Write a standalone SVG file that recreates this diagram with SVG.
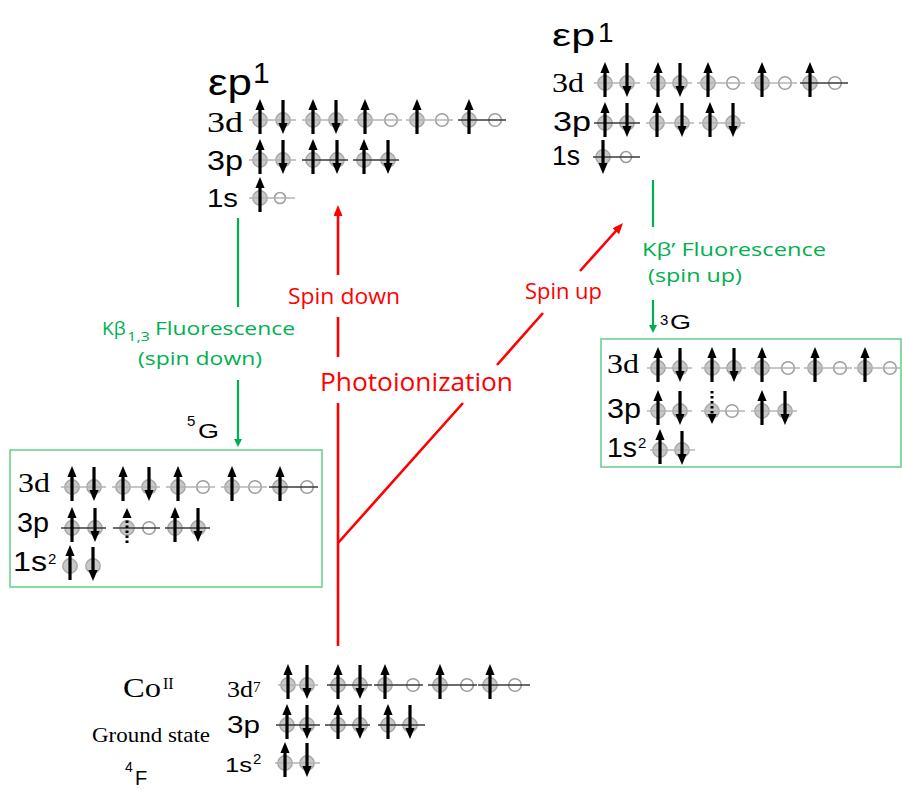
<svg xmlns="http://www.w3.org/2000/svg" xmlns:xlink="http://www.w3.org/1999/xlink" width="902" height="790" viewBox="0 0 902 790">
<style>
.cf{fill:#c8c8c8;stroke:#a6a6a6;stroke-width:1.4}
.co{fill:#fff;stroke:#9e9e9e;stroke-width:1.6}
.ll{stroke:#b3b3b3;stroke-width:1.3}
.ld{stroke:#3a3a3a;stroke-width:1.3}
.ar{stroke:#000;stroke-width:3.2}
.dt{stroke:#000;stroke-width:3;stroke-dasharray:2.5,2.5}
.lab{font-family:"Liberation Sans",Arial,sans-serif;fill:#000}
.ser{font-family:"Liberation Serif","Times New Roman",serif;fill:#000}
.red{font-family:"Open Sans","Noto Sans",sans-serif;fill:#ff0000}
.grn{font-family:"Open Sans","Noto Sans",sans-serif;fill:#00b050}
.rl{stroke:#ff0000;stroke-width:2.6;fill:none}
.gl{stroke:#00b050;stroke-width:2.2;fill:none}
.box{fill:none;stroke:#5fcf86;stroke-width:1.5}
</style>
<defs>
<circle id="f" r="7.2" class="cf"/>
<circle id="o" r="6.3" class="co"/>
<circle id="os" r="5.5" class="co"/>
<g id="u"><line x1="0" y1="14" x2="0" y2="-11" class="ar"/><path d="M-4.6,-10 L0,-21 L4.6,-10Z"/></g>
<g id="d"><line x1="0" y1="-20" x2="0" y2="4" class="ar"/><path d="M-4.6,3 L0,14 L4.6,3Z"/></g>
<g id="du"><line x1="0" y1="15" x2="0" y2="-10" class="dt"/><path d="M-4.6,-10 L0,-20 L4.6,-10Z"/></g>
<g id="dd"><line x1="0" y1="-20" x2="0" y2="4" class="dt"/><path d="M-4.6,3 L0,13 L4.6,3Z"/></g>
<marker id="mr" markerUnits="userSpaceOnUse" markerWidth="12" markerHeight="10" refX="3" refY="4.5" orient="auto"><path d="M0,0 L11,4.5 L0,9Z" fill="#ff0000"/></marker>
<marker id="mg" markerUnits="userSpaceOnUse" markerWidth="10" markerHeight="9" refX="1" refY="4" orient="auto"><path d="M0,0 L8,4 L0,8Z" fill="#00b050"/></marker>
</defs>
<rect width="902" height="790" fill="#fff"/>

<g id="connectors">
<line class="rl" x1="338" y1="646" x2="338" y2="403"/>
<line class="rl" x1="338" y1="357" x2="338" y2="317"/>
<line class="rl" x1="338" y1="275" x2="338" y2="213" marker-end="url(#mr)"/>
<line class="rl" x1="338" y1="543" x2="463" y2="403"/>
<line class="rl" x1="497" y1="365" x2="543" y2="313"/>
<line class="rl" x1="580" y1="271" x2="617.7" y2="229" marker-end="url(#mr)"/>
<line class="gl" x1="238" y1="218" x2="238" y2="307"/>
<line class="gl" x1="238" y1="380" x2="238" y2="440" marker-end="url(#mg)"/>
<line class="gl" x1="653" y1="180" x2="653" y2="227"/>
<line class="gl" x1="653" y1="300" x2="653" y2="326" marker-end="url(#mg)"/>
</g>

<g id="labels">
<text class="red" x="288" y="304" font-size="21" textLength="112" lengthAdjust="spacingAndGlyphs">Spin down</text>
<text class="red" x="525" y="299" font-size="21" textLength="77" lengthAdjust="spacingAndGlyphs">Spin up</text>
<text class="red" x="320" y="391" font-size="26" textLength="193" lengthAdjust="spacingAndGlyphs">Photoionization</text>
<text class="grn" x="102" y="335" font-size="19">Kβ</text>
<text class="grn" x="127" y="341" font-size="13" textLength="23" lengthAdjust="spacingAndGlyphs">1,3</text>
<text class="grn" x="155" y="335" font-size="19" textLength="140" lengthAdjust="spacingAndGlyphs">Fluorescence</text>
<text class="grn" x="138" y="365" font-size="19" textLength="124" lengthAdjust="spacingAndGlyphs">(spin down)</text>
<text class="grn" x="642" y="256" font-size="19" textLength="184" lengthAdjust="spacingAndGlyphs">Kβ’ Fluorescence</text>
<text class="grn" x="648" y="282" font-size="19" textLength="94" lengthAdjust="spacingAndGlyphs">(spin up)</text>
</g>

<g id="ep1-left">
<text class="lab" x="208" y="95" font-size="36" textLength="44" lengthAdjust="spacingAndGlyphs">εp</text>
<text class="lab" x="253" y="83" font-size="30">1</text>
<text class="ser" x="207" y="132" font-size="30" textLength="36" lengthAdjust="spacingAndGlyphs">3d</text>
<text class="lab" x="207" y="170" font-size="28" textLength="36" lengthAdjust="spacingAndGlyphs">3p</text>
<text class="lab" x="207" y="207" font-size="26" textLength="31" lengthAdjust="spacingAndGlyphs">1s</text>
<use href="#f" x="260" y="120"/><use href="#f" x="283" y="120"/><use href="#f" x="313" y="120"/><use href="#f" x="336" y="120"/><use href="#f" x="365" y="120"/><use href="#o" x="391" y="120"/><use href="#f" x="417" y="120"/><use href="#o" x="442" y="120"/><use href="#f" x="469" y="120"/><use href="#o" x="495" y="120"/>
<line class="ll" x1="249" y1="120" x2="296" y2="120"/><line class="ll" x1="302" y1="120" x2="348" y2="120"/><line class="ll" x1="354" y1="120" x2="402" y2="120"/><line class="ll" x1="406" y1="120" x2="453" y2="120"/><line class="ld" x1="458" y1="120" x2="506" y2="120"/>
<use href="#u" x="260" y="120"/><use href="#d" x="283" y="120"/><use href="#u" x="313" y="120"/><use href="#d" x="336" y="120"/><use href="#u" x="365" y="120"/><use href="#u" x="417" y="120"/><use href="#u" x="469" y="120"/>
<use href="#f" x="260" y="160"/><use href="#f" x="283" y="160"/><use href="#f" x="313" y="160"/><use href="#f" x="337" y="160"/><use href="#f" x="364" y="160"/><use href="#f" x="388" y="160"/>
<line class="ll" x1="249" y1="160" x2="296" y2="160"/><line class="ld" x1="302" y1="160" x2="348" y2="160"/><line class="ld" x1="353" y1="160" x2="399" y2="160"/>
<use href="#u" x="260" y="160"/><use href="#d" x="283" y="160"/><use href="#u" x="313" y="160"/><use href="#d" x="337" y="160"/><use href="#u" x="364" y="160"/><use href="#d" x="388" y="160"/>
<use href="#f" x="260" y="198"/><use href="#os" x="280" y="198"/>
<line class="ll" x1="249" y1="198" x2="295" y2="198"/>
<use href="#u" x="260" y="198"/>
</g>

<g id="ep1-right">
<text class="lab" x="552" y="46" font-size="31" textLength="43" lengthAdjust="spacingAndGlyphs">εp</text>
<text class="lab" x="598" y="42" font-size="28">1</text>
<text class="ser" x="552" y="92" font-size="27" textLength="32" lengthAdjust="spacingAndGlyphs">3d</text>
<text class="lab" x="553" y="131" font-size="27" textLength="38" lengthAdjust="spacingAndGlyphs">3p</text>
<text class="lab" x="552" y="165" font-size="27" textLength="28" lengthAdjust="spacingAndGlyphs">1s</text>
<use href="#f" x="605" y="83"/><use href="#f" x="627" y="83"/><use href="#f" x="658" y="83"/><use href="#f" x="680" y="83"/><use href="#f" x="708" y="83"/><use href="#o" x="733" y="83"/><use href="#f" x="762" y="83"/><use href="#o" x="785" y="83"/><use href="#f" x="810" y="83"/><use href="#o" x="835" y="83"/>
<line class="ll" x1="594" y1="83" x2="640" y2="83"/><line class="ll" x1="647" y1="83" x2="692" y2="83"/><line class="ll" x1="697" y1="83" x2="745" y2="83"/><line class="ll" x1="751" y1="83" x2="797" y2="83"/><line class="ld" x1="800" y1="83" x2="848" y2="83"/>
<use href="#u" x="605" y="83"/><use href="#d" x="627" y="83"/><use href="#u" x="658" y="83"/><use href="#d" x="680" y="83"/><use href="#u" x="708" y="83"/><use href="#u" x="762" y="83"/><use href="#u" x="810" y="83"/>
<use href="#f" x="605" y="123"/><use href="#f" x="627" y="123"/><use href="#f" x="657" y="123"/><use href="#f" x="682" y="123"/><use href="#f" x="710" y="123"/><use href="#f" x="733" y="123"/>
<line class="ld" x1="594" y1="123" x2="640" y2="123"/><line class="ll" x1="646" y1="123" x2="694" y2="123"/><line class="ll" x1="699" y1="123" x2="745" y2="123"/>
<use href="#u" x="605" y="123"/><use href="#d" x="627" y="123"/><use href="#u" x="657" y="123"/><use href="#d" x="682" y="123"/><use href="#u" x="710" y="123"/><use href="#d" x="733" y="123"/>
<use href="#f" x="603" y="157"/><use href="#os" x="626" y="157"/>
<line class="ld" x1="593" y1="157" x2="640" y2="157"/>
<use href="#d" x="603" y="160"/>
</g>

<g id="state-3G">
<rect class="box" x="601" y="339" width="300" height="128"/>
<text class="lab" x="660" y="325" font-size="15">3</text>
<text class="lab" x="670" y="329" font-size="21" textLength="21" lengthAdjust="spacingAndGlyphs">G</text>
<text class="ser" x="607" y="373" font-size="28" textLength="32" lengthAdjust="spacingAndGlyphs">3d</text>
<text class="lab" x="607" y="418" font-size="27" textLength="34" lengthAdjust="spacingAndGlyphs">3p</text>
<text class="lab" x="607" y="457" font-size="27" textLength="30" lengthAdjust="spacingAndGlyphs">1s</text>
<text class="lab" x="638" y="448" font-size="15">2</text>
<use href="#f" x="658" y="368"/><use href="#f" x="680" y="368"/><use href="#f" x="712" y="368"/><use href="#f" x="734" y="368"/><use href="#f" x="762" y="368"/><use href="#o" x="788" y="368"/><use href="#f" x="815" y="368"/><use href="#o" x="840" y="368"/><use href="#f" x="865" y="368"/><use href="#o" x="890" y="368"/>
<line class="ll" x1="647" y1="368" x2="692" y2="368"/><line class="ll" x1="701" y1="368" x2="746" y2="368"/><line class="ll" x1="751" y1="368" x2="800" y2="368"/><line class="ll" x1="804" y1="368" x2="852" y2="368"/><line class="ll" x1="854" y1="368" x2="900" y2="368"/>
<use href="#u" x="658" y="368"/><use href="#d" x="680" y="368"/><use href="#u" x="712" y="368"/><use href="#d" x="734" y="368"/><use href="#u" x="762" y="368"/><use href="#u" x="815" y="368"/><use href="#u" x="865" y="368"/>
<use href="#f" x="658" y="411"/><use href="#f" x="680" y="411"/><use href="#f" x="712" y="411"/><use href="#o" x="732" y="411"/><use href="#f" x="762" y="411"/><use href="#f" x="785" y="411"/>
<line class="ll" x1="647" y1="411" x2="692" y2="411"/><line class="ll" x1="701" y1="411" x2="745" y2="411"/><line class="ll" x1="751" y1="411" x2="797" y2="411"/>
<use href="#u" x="658" y="411"/><use href="#d" x="680" y="411"/><use href="#dd" x="712" y="411"/><use href="#u" x="762" y="411"/><use href="#d" x="785" y="411"/>
<use href="#f" x="660" y="450"/><use href="#f" x="682" y="450"/>
<line class="ll" x1="650" y1="450" x2="695" y2="450"/>
<use href="#u" x="660" y="450"/><use href="#d" x="682" y="451"/>
</g>

<g id="state-5G">
<rect class="box" x="10" y="450" width="312" height="137"/>
<text class="lab" x="187" y="426" font-size="15">5</text>
<text class="lab" x="198" y="438" font-size="21" textLength="21" lengthAdjust="spacingAndGlyphs">G</text>
<text class="ser" x="18" y="492" font-size="28" textLength="32" lengthAdjust="spacingAndGlyphs">3d</text>
<text class="lab" x="17" y="532" font-size="27" textLength="32" lengthAdjust="spacingAndGlyphs">3p</text>
<text class="lab" x="13" y="571" font-size="27" textLength="34" lengthAdjust="spacingAndGlyphs">1s</text>
<text class="lab" x="48" y="564" font-size="15">2</text>
<use href="#f" x="72" y="487"/><use href="#f" x="94" y="487"/><use href="#f" x="123" y="487"/><use href="#f" x="149" y="487"/><use href="#f" x="178" y="487"/><use href="#o" x="203" y="487"/><use href="#f" x="232" y="487"/><use href="#o" x="255" y="487"/><use href="#f" x="280" y="487"/><use href="#o" x="307" y="487"/>
<line class="ll" x1="61" y1="487" x2="106" y2="487"/><line class="ll" x1="112" y1="487" x2="160" y2="487"/><line class="ll" x1="166" y1="487" x2="215" y2="487"/><line class="ll" x1="221" y1="487" x2="267" y2="487"/><line class="ld" x1="269" y1="487" x2="318" y2="487"/>
<use href="#u" x="72" y="487"/><use href="#d" x="94" y="487"/><use href="#u" x="123" y="487"/><use href="#d" x="149" y="487"/><use href="#u" x="178" y="487"/><use href="#u" x="232" y="487"/><use href="#u" x="280" y="487"/>
<use href="#f" x="72" y="528"/><use href="#f" x="95" y="528"/><use href="#f" x="127" y="528"/><use href="#o" x="149" y="528"/><use href="#f" x="175" y="528"/><use href="#f" x="198" y="528"/>
<line class="ld" x1="61" y1="528" x2="106" y2="528"/><line class="ld" x1="113" y1="528" x2="160" y2="528"/><line class="ld" x1="165" y1="528" x2="210" y2="528"/>
<use href="#u" x="72" y="528"/><use href="#d" x="95" y="528"/><use href="#du" x="127" y="528"/><use href="#u" x="175" y="528"/><use href="#d" x="198" y="528"/>
<use href="#f" x="70" y="566"/><use href="#f" x="93" y="566"/>
<use href="#u" x="70" y="566"/><use href="#d" x="93" y="567"/>
</g>

<g id="ground-state">
<text class="ser" x="123" y="697" font-size="27" textLength="38" lengthAdjust="spacingAndGlyphs">Co</text>
<text class="ser" x="163" y="689" font-size="16">II</text>
<text class="ser" x="92" y="742" font-size="21" textLength="118" lengthAdjust="spacingAndGlyphs">Ground state</text>
<text class="lab" x="125" y="772" font-size="14">4</text>
<text class="lab" x="135" y="785" font-size="20">F</text>
<text class="ser" x="227" y="697" font-size="24" textLength="26" lengthAdjust="spacingAndGlyphs">3d</text>
<text class="ser" x="253" y="692" font-size="15">7</text>
<text class="lab" x="227" y="733" font-size="23" textLength="33" lengthAdjust="spacingAndGlyphs">3p</text>
<text class="lab" x="225" y="772" font-size="21" textLength="27" lengthAdjust="spacingAndGlyphs">1s</text>
<text class="lab" x="253" y="764" font-size="15">2</text>
<use href="#f" x="288" y="685"/><use href="#f" x="307" y="685"/><use href="#f" x="338" y="685"/><use href="#f" x="360" y="685"/><use href="#f" x="385" y="685"/><use href="#o" x="413" y="685"/><use href="#f" x="440" y="685"/><use href="#o" x="467" y="685"/><use href="#f" x="490" y="685"/><use href="#o" x="515" y="685"/>
<line class="ll" x1="278" y1="685" x2="318" y2="685"/><line class="ld" x1="327" y1="685" x2="372" y2="685"/><line class="ld" x1="374" y1="685" x2="423" y2="685"/><line class="ld" x1="428" y1="685" x2="477" y2="685"/><line class="ld" x1="478" y1="685" x2="530" y2="685"/>
<use href="#u" x="288" y="685"/><use href="#d" x="307" y="685"/><use href="#u" x="338" y="685"/><use href="#d" x="360" y="685"/><use href="#u" x="385" y="685"/><use href="#u" x="440" y="685"/><use href="#u" x="490" y="685"/>
<use href="#f" x="287" y="725"/><use href="#f" x="307" y="725"/><use href="#f" x="338" y="725"/><use href="#f" x="360" y="725"/><use href="#f" x="388" y="725"/><use href="#f" x="410" y="725"/>
<line class="ld" x1="276" y1="725" x2="320" y2="725"/><line class="ld" x1="325" y1="725" x2="370" y2="725"/><line class="ld" x1="378" y1="725" x2="425" y2="725"/>
<use href="#u" x="287" y="725"/><use href="#d" x="307" y="725"/><use href="#u" x="338" y="725"/><use href="#d" x="360" y="725"/><use href="#u" x="388" y="725"/><use href="#d" x="410" y="725"/>
<use href="#f" x="285" y="763"/><use href="#f" x="307" y="763"/>
<line class="ll" x1="275" y1="763" x2="320" y2="763"/>
<use href="#u" x="285" y="763"/><use href="#d" x="307" y="763"/>
</g>
</svg>
